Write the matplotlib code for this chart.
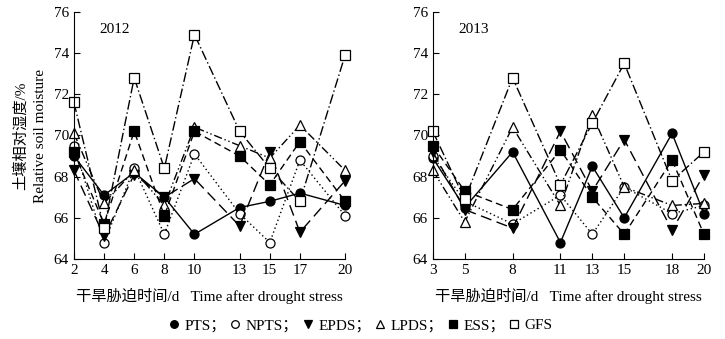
import matplotlib
matplotlib.use("Agg")
import matplotlib.pyplot as plt
from matplotlib.lines import Line2D

plt.rcParams['font.family'] = ['Liberation Serif', 'Noto Sans CJK SC', 'DejaVu Sans']
plt.rcParams['font.size'] = 11

# 2012 数据
days_2012 = [2, 4, 6, 8, 10, 13, 15, 17, 20]
pts_2012 = [69.0, 67.1, 68.2, 67.0, 65.2, 66.5, 66.8, 67.2, 66.6]
npts_2012 = [69.5, 64.8, 68.4, 65.2, 69.1, 66.2, 64.8, 68.8, 66.1]
epds_2012 = [68.3, 65.1, 68.1, 67.0, 67.9, 65.6, 69.2, 65.3, 67.8]
lpds_2012 = [70.1, 66.7, 68.3, 66.6, 70.4, 69.5, 68.9, 70.5, 68.3]
ess_2012 = [69.2, 65.7, 70.2, 66.1, 70.2, 69.0, 67.6, 69.7, 66.8]
gfs_2012 = [71.6, 65.5, 72.8, 68.4, 74.9, 70.2, 68.4, 66.8, 73.9]

# 2013 数据
days_2013 = [3, 5, 8, 11, 13, 15, 18, 20]
pts_2013 = [68.9, 66.5, 69.2, 64.8, 68.5, 66.0, 70.1, 66.2]
npts_2013 = [69.0, 66.8, 65.7, 67.1, 65.2, 67.5, 66.2, 66.6]
epds_2013 = [69.2, 66.4, 65.5, 70.2, 67.3, 69.8, 65.4, 68.1]
lpds_2013 = [68.3, 65.8, 70.4, 66.6, 71.0, 67.5, 66.6, 66.7]
ess_2013 = [69.5, 67.3, 66.4, 69.3, 67.0, 65.2, 68.8, 65.2]
gfs_2013 = [70.2, 66.9, 72.8, 67.6, 70.6, 73.5, 67.8, 69.2]

names = ['PTS', 'NPTS', 'EPDS', 'LPDS', 'ESS', 'GFS']
markers = ['o', 'o', 'v', '^', 's', 's']
fills = ['black', 'white', 'black', 'white', 'black', 'white']
styles = ['-', (0, (1, 2)), (0, (8, 4)), (0, (6, 2, 1, 2, 1, 2)), (0, (5, 3)), (0, (7, 2, 1, 2))]

fig = plt.figure(figsize=(7.25, 3.39), dpi=100)
ax1 = fig.add_axes([0.102, 0.236, 0.374, 0.729])
ax2 = fig.add_axes([0.597, 0.236, 0.374, 0.729])

panels = [
    (ax1, days_2012, [pts_2012, npts_2012, epds_2012, lpds_2012, ess_2012, gfs_2012], '2012'),
    (ax2, days_2013, [pts_2013, npts_2013, epds_2013, lpds_2013, ess_2013, gfs_2013], '2013'),
]

for ax, days, series, year in panels:
    for vals, m, fc, ls in zip(series, markers, fills, styles):
        ax.plot(days, vals, color='black', linestyle=ls, linewidth=1.0,
                marker=m, markersize=6.5, markerfacecolor=fc, markeredgecolor='black',
                markeredgewidth=0.9, clip_on=False)
    ax.set_xlim(days[0], days[-1])
    ax.set_ylim(64, 76)
    ax.set_xticks(days)
    ax.set_yticks([64, 66, 68, 70, 72, 74, 76])
    ax.tick_params(direction='in', length=4, width=0.8, labelsize=11)
    ax.spines['top'].set_visible(False)
    ax.spines['right'].set_visible(False)
    ax.text(0.15, 0.93, year, transform=ax.transAxes, ha='center', va='center', fontsize=11)
    ax.set_xlabel('干旱胁迫时间/d   Time after drought stress', fontsize=11, labelpad=8)

fig.text(0.028, 0.6, '土壤相对湿度/%', rotation=90, ha='center', va='center', fontsize=11)
fig.text(0.056, 0.6, 'Relative soil moisture', rotation=90, ha='center', va='center', fontsize=11)

handles = [Line2D([], [], linestyle='none', marker=m, markersize=5.5,
                  markerfacecolor=fc, markeredgecolor='black', markeredgewidth=0.9)
           for m, fc in zip(markers, fills)]
labels = [n + '；' for n in names[:-1]] + [names[-1]]
fig.legend(handles, labels, loc='center', bbox_to_anchor=(0.497, 0.04), ncol=6,
           frameon=False, handlelength=0.8, handletextpad=0.3, columnspacing=0.2, fontsize=11)

fig.savefig('out.png', dpi=100)
